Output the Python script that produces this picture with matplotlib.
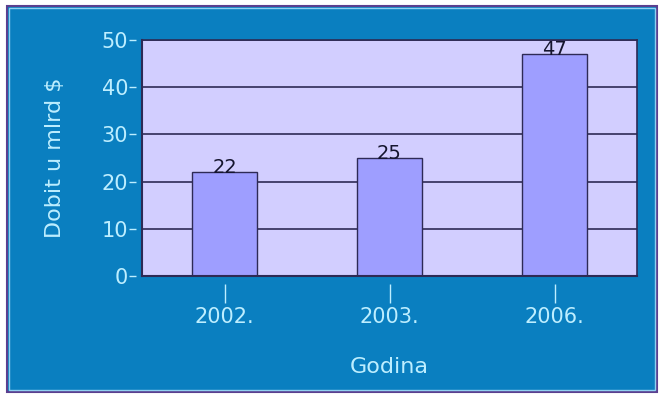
import matplotlib.pyplot as plt
from matplotlib.patches import Rectangle

# podaci
godine = ["2002.", "2003.", "2006."]
dobit = [22, 25, 47]
y_ticks = [0, 10, 20, 30, 40, 50]

plt.rcParams['font.family'] = ['DejaVu Sans']

tamna = '#2e2a55'
svijetla = '#bdeeff'

fig = plt.figure(figsize=(6.64, 3.98), dpi=100, facecolor='white')
# plava pozadina s okvirom
fig.patches.append(Rectangle((7/664, 6/398), 650/664, 386/398, transform=fig.transFigure,
                             facecolor='#0a7fc0', edgecolor='#5a3f8f', linewidth=1.5, zorder=-2))
fig.patches.append(Rectangle((9/664, 8/398), 646/664, 382/398, transform=fig.transFigure,
                             facecolor='none', edgecolor='#8fd0f0', linewidth=1, zorder=-1))

ax = fig.add_axes([142/664, 122/398, 495/664, 236/398])
ax.set_facecolor('#d2ceff')
x = range(len(godine))
ax.bar(x, dobit, width=0.39, color='#9e9eff', edgecolor=tamna, linewidth=1, zorder=3)
for i, v in zip(x, dobit):
    ax.annotate(str(v), (i, v), xytext=(0, 3), textcoords='offset points',
                ha='center', va='center', fontsize=14, color='#15152e', zorder=4)

ax.set_xlim(-0.5, 2.5)
ax.set_ylim(0, 50)
ax.set_yticks(y_ticks)
ax.set_xticks(list(x))
ax.set_xticklabels(godine)
ax.yaxis.grid(True, color=tamna, linewidth=1.2, zorder=1)
ax.set_axisbelow(True)

# crtice odmaknute od okvira
ax.spines['bottom'].set_position(('outward', 6))
ax.spines['left'].set_position(('outward', 4))
ax.spines['bottom'].set_color('none')
ax.spines['left'].set_color('none')
for s in ['top', 'right']:
    ax.spines[s].set_color(tamna)
    ax.spines[s].set_linewidth(1.2)
ax.axhline(0, color=tamna, linewidth=1.5, clip_on=False, zorder=5)
ax.axvline(-0.5, color=tamna, linewidth=1.5, clip_on=False, zorder=5)

ax.tick_params(axis='y', colors=svijetla, labelsize=15, length=5, width=1, pad=1)
ax.tick_params(axis='x', colors=svijetla, labelsize=15, length=14, width=1, pad=2)
ax.set_ylabel("Dobit u mlrd $", color=svijetla, fontsize=16, labelpad=26)
ax.set_xlabel("Godina", color=svijetla, fontsize=16, labelpad=22)

fig.savefig("out.png", dpi=100, facecolor='white')
